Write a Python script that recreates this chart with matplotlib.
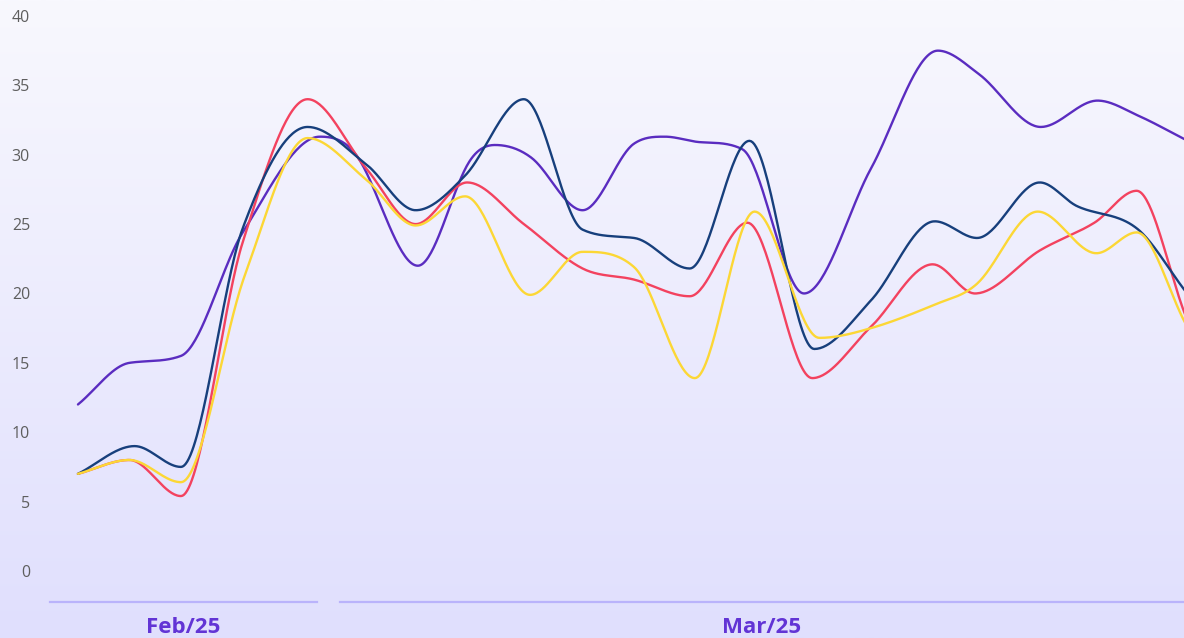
import numpy as np
import matplotlib.pyplot as plt
from matplotlib.colors import LinearSegmentedColormap

# x positions are in days from the first sample
purple_x = [0, 5, 10, 16, 23.5, 27, 33, 38, 40.5, 44, 49, 54, 57, 60.5, 64.5, 70.5, 77, 83.5, 87.5, 93.5, 99, 103, 107.5]
purple_y = [12, 15, 15.5, 24.4, 31.3, 30, 22, 29.5, 30.7, 29.8, 26, 30.8, 31.3, 30.9, 30.4, 20, 29, 37.5, 35.8, 32, 33.9, 32.8, 31.1]

blue_x = [0, 5.5, 10, 16, 22.3, 28, 32.8, 37.6, 43.3, 49, 54, 59.4, 65.2, 71.5, 77, 83.2, 87.3, 93.4, 97, 102.8, 107.5]
blue_y = [7, 9, 7.5, 24.7, 32, 29.3, 26, 28.5, 34, 24.6, 24, 21.8, 31, 16, 19.5, 25.2, 24, 28, 26.3, 24.7, 20.2]

red_x = [0, 5, 10, 16, 22.3, 28, 32.8, 37.8, 43.3, 49, 54, 59.4, 65, 71.3, 77, 83, 87.1, 93.4, 98.7, 102.8, 107.5]
red_y = [7, 8, 5.4, 23.7, 34, 29, 25, 28, 25, 21.8, 21, 19.8, 25.1, 13.9, 17.6, 22.1, 20, 23.1, 25.1, 27.4, 18.5]

yellow_x = [0, 5, 10, 16.2, 22.3, 28, 32.8, 37.6, 43.9, 49, 54, 59.9, 65.7, 72, 77, 83.2, 87.3, 93.2, 98.9, 102.8, 107.5]
yellow_y = [7, 8, 6.4, 21.3, 31.2, 28.2, 24.9, 27, 19.9, 23, 21.9, 13.9, 25.9, 16.8, 17.5, 19.2, 20.7, 25.9, 22.9, 24.4, 17.9]

month_labels = ['Feb/25', 'Mar/25']
month_start = [-2.7, 25.4]
month_end = [23.2, 107.4]

y_ticks = [0, 5, 10, 15, 20, 25, 30, 35, 40]


def smooth(x, y, n=40):
    # catmull-rom style tangents, flat at turning points, clamped so no overshoot
    x = np.asarray(x, float)
    y = np.asarray(y, float)
    h = np.diff(x)
    d = np.diff(y) / h
    m = np.zeros_like(y)
    m[0] = d[0]
    m[-1] = d[-1]
    for k in range(1, len(x) - 1):
        if d[k - 1] * d[k] > 0:
            m[k] = (y[k + 1] - y[k - 1]) / (x[k + 1] - x[k - 1])
    for k in range(len(d)):
        if d[k] == 0:
            m[k] = m[k + 1] = 0
            continue
        a = m[k] / d[k]
        b = m[k + 1] / d[k]
        s = a * a + b * b
        if s > 9:
            t = 3 / np.sqrt(s)
            m[k] = t * a * d[k]
            m[k + 1] = t * b * d[k]
    xs, ys = [], []
    for k in range(len(x) - 1):
        t = np.linspace(0, 1, n)
        h00 = 2 * t**3 - 3 * t**2 + 1
        h10 = t**3 - 2 * t**2 + t
        h01 = -2 * t**3 + 3 * t**2
        h11 = t**3 - t**2
        xs.append(x[k] + t * h[k])
        ys.append(h00 * y[k] + h10 * h[k] * m[k] + h01 * y[k + 1] + h11 * h[k] * m[k + 1])
    return np.concatenate(xs), np.concatenate(ys)


fig = plt.figure(figsize=(11.84, 6.38), dpi=100)
ax = fig.add_axes([0, 0, 1, 1])

xlim = (-7.57, 107.4)
ylim = (-4.83, 41.15)

bg = LinearSegmentedColormap.from_list('bg', ['#e0dffd', '#f8f8fe'])
ax.imshow(np.linspace(0, 1, 256).reshape(-1, 1), cmap=bg, origin='lower',
          extent=[xlim[0], xlim[1], ylim[0], ylim[1]], aspect='auto', zorder=0)

series = [
    (purple_x, purple_y, '#5a2cc0'),
    (red_x, red_y, '#f3425f'),
    (blue_x, blue_y, '#173f7c'),
    (yellow_x, yellow_y, '#fcd735'),
]
for sx, sy, c in series:
    px, py = smooth(sx, sy)
    ax.plot(px, py, color=c, lw=1.7, zorder=3, solid_capstyle='round')

ax.set_xlim(xlim)
ax.set_ylim(ylim)

ax.set_yticks(y_ticks)
ax.set_yticklabels([str(v) for v in y_ticks], fontfamily='Open Sans', fontsize=11.5, color='#5e5e5e')
ax.tick_params(axis='y', length=0, pad=-21.6)
ax.set_xticks([])
for s in ax.spines.values():
    s.set_visible(False)

trans = ax.get_xaxis_transform()
for lab, a, b in zip(month_labels, month_start, month_end):
    ax.plot([a, b], [0.0564, 0.0564], transform=trans, color='#bab3fb', lw=1.6, clip_on=False)
    ax.text((a + b) / 2, 0.017, lab, transform=trans, ha='center', va='center',
            fontfamily='Open Sans', fontweight='bold', fontsize=16, color='#6234d5')

fig.savefig('out.png', dpi=100)
